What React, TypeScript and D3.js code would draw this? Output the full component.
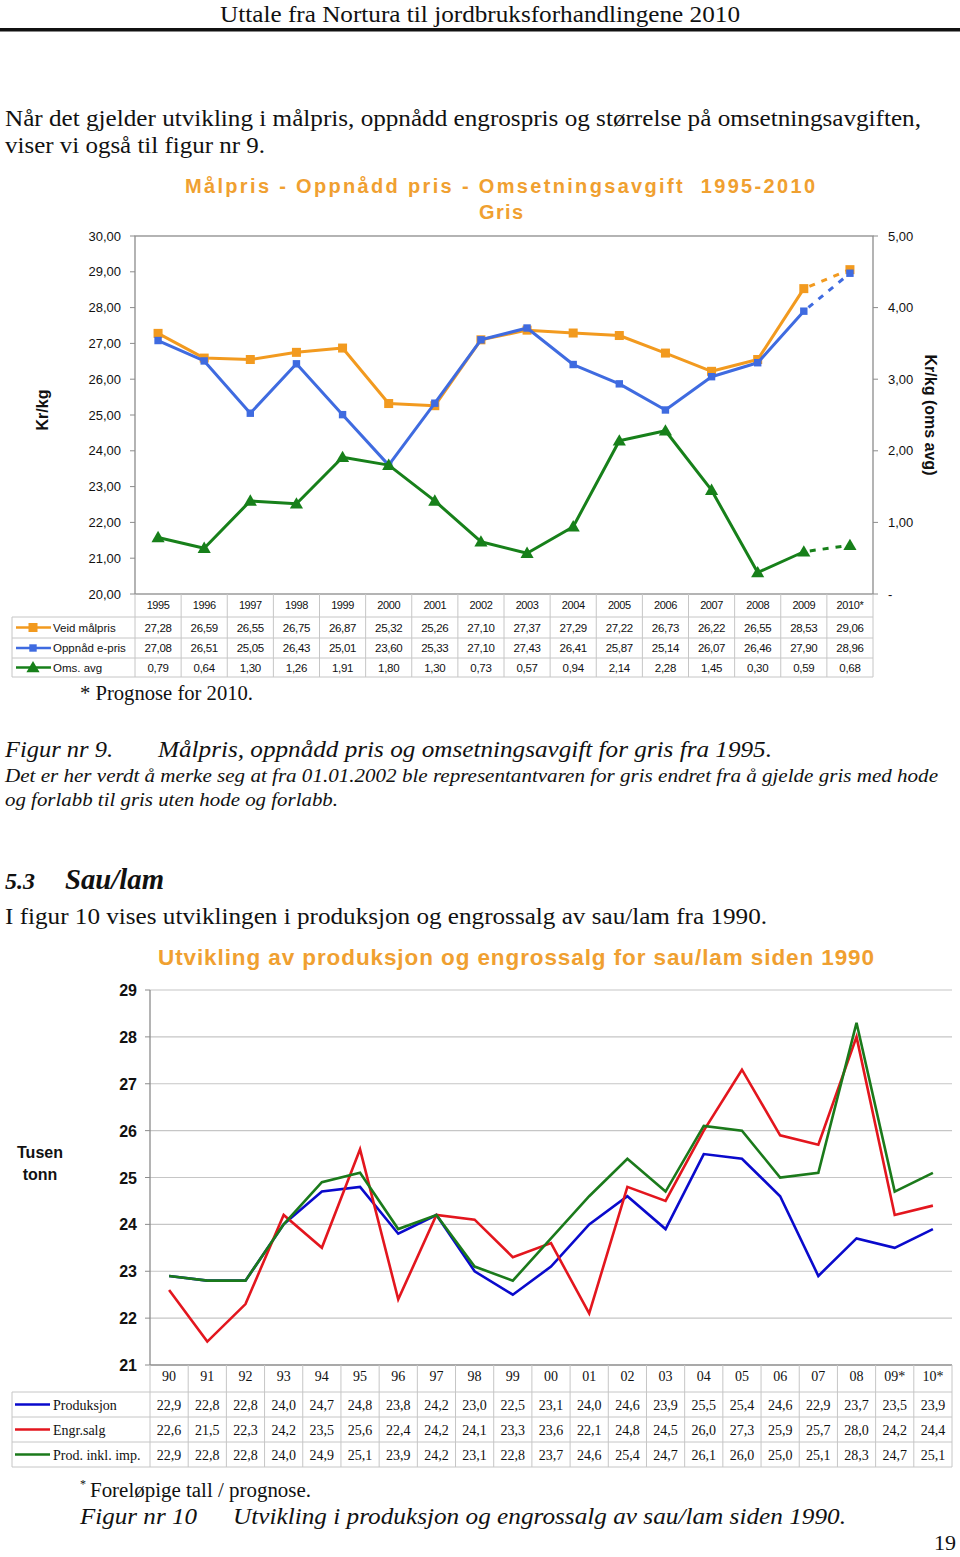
import React from "react";
import * as d3 from "d3";

// ---------- Figure 9 data ----------
const years1 = ["1995","1996","1997","1998","1999","2000","2001","2002","2003","2004","2005","2006","2007","2008","2009","2010*"];
const veidMalpris = [27.28,26.59,26.55,26.75,26.87,25.32,25.26,27.10,27.37,27.29,27.22,26.73,26.22,26.55,28.53,29.06];
const oppnaddPris = [27.08,26.51,25.05,26.43,25.01,23.60,25.33,27.10,27.43,26.41,25.87,25.14,26.07,26.46,27.90,28.96];
const omsAvg = [0.79,0.64,1.30,1.26,1.91,1.80,1.30,0.73,0.57,0.94,2.14,2.28,1.45,0.30,0.59,0.68];
const leftTicks1 = [20,21,22,23,24,25,26,27,28,29,30];
const rightTicks1 = [0,1,2,3,4,5];

// ---------- Figure 10 data ----------
const years2 = ["90","91","92","93","94","95","96","97","98","99","00","01","02","03","04","05","06","07","08","09*","10*"];
const produksjon = [22.9,22.8,22.8,24.0,24.7,24.8,23.8,24.2,23.0,22.5,23.1,24.0,24.6,23.9,25.5,25.4,24.6,22.9,23.7,23.5,23.9];
const engrSalg = [22.6,21.5,22.3,24.2,23.5,25.6,22.4,24.2,24.1,23.3,23.6,22.1,24.8,24.5,26.0,27.3,25.9,25.7,28.0,24.2,24.4];
const prodInklImp = [22.9,22.8,22.8,24.0,24.9,25.1,23.9,24.2,23.1,22.8,23.7,24.6,25.4,24.7,26.1,26.0,25.0,25.1,28.3,24.7,25.1];
const ticks2 = [21,22,23,24,25,26,27,28,29];

const SERIF = "'Liberation Serif','Times New Roman',serif";
const SANS = "'Liberation Sans',Arial,Helvetica,sans-serif";
const ORANGE = "#f29a1f";
const TITLE_ORANGE = "#f0a030";
const BLUE1 = "#3f6be0";
const GREEN1 = "#17801a";
const BLUE2 = "#0a0acc";
const RED2 = "#e3161e";
const GREEN2 = "#1b7a1b";
const AXIS = "#8c8c8c";
const GRID = "#c6c6c6";

const comma2 = (v: number) => d3.format(".2f")(v).replace(".", ",");
const comma1 = (v: number) => d3.format(".1f")(v).replace(".", ",");

function Marker({ type, x, y, color }: { type: string; x: number; y: number; color: string }) {
  if (type === "square") return <rect x={x - 4.5} y={y - 4.5} width={9} height={9} fill={color} />;
  if (type === "diamond") {
    const p = d3.symbol().type(d3.symbolDiamond2).size(70)();
    return <path d={p || ""} transform={`translate(${x},${y}) rotate(45)`} fill={color} />;
  }
  const t = d3.symbol().type(d3.symbolTriangle).size(75)();
  return <path d={t || ""} transform={`translate(${x},${y + 1})`} fill={color} />;
}

function Figure9() {
  const x = d3.scaleBand<string>().domain(years1).range([135, 873]);
  const cx = (d: string) => (x(d) as number) + x.bandwidth() / 2;
  const yL = d3.scaleLinear().domain([20, 30]).range([594, 236]);
  const yR = d3.scaleLinear().domain([0, 5]).range([594, 236]);

  const series = [
    { name: "Veid målpris", values: veidMalpris, color: ORANGE, marker: "square", y: yL, fmt: comma2 },
    { name: "Oppnåd e-pris", values: oppnaddPris, color: BLUE1, marker: "diamond", y: yL, fmt: comma2 },
    { name: "Oms. avg", values: omsAvg, color: GREEN1, marker: "triangle", y: yR, fmt: comma2 },
  ];
  const line = d3.line<[number, number]>();
  const n = years1.length;
  const rowTops = [617, 638, 658];
  const rowH = [21, 20, 19];

  return (
    <g>
      {/* title */}
      <text x={185} y={193} fontFamily={SANS} fontWeight="bold" fontSize={20} fill={TITLE_ORANGE} textLength={630} lengthAdjust="spacing" xmlSpace="preserve">Målpris - Oppnådd pris - Omsetningsavgift  1995-2010</text>
      <text x={479} y={219} fontFamily={SANS} fontWeight="bold" fontSize={20} fill={TITLE_ORANGE} textLength={44} lengthAdjust="spacing">Gris</text>

      {/* frame */}
      <rect x={135} y={236} width={738} height={358} fill="none" stroke={AXIS} strokeWidth={1.3} />
      {leftTicks1.map((t) => (
        <g key={"l" + t}>
          <line x1={130} x2={135} y1={yL(t)} y2={yL(t)} stroke={AXIS} />
          <text x={121} y={yL(t) + 4.5} textAnchor="end" fontFamily={SANS} fontSize={13} fill="#111">{comma2(t)}</text>
        </g>
      ))}
      {rightTicks1.map((t) => (
        <g key={"r" + t}>
          <line x1={873} x2={878} y1={yR(t)} y2={yR(t)} stroke={AXIS} />
          <text x={888} y={yR(t) + 4.5} fontFamily={SANS} fontSize={13} fill="#111">{t === 0 ? "-" : comma2(t)}</text>
        </g>
      ))}
      <text transform="translate(48,410) rotate(-90)" textAnchor="middle" fontFamily={SANS} fontWeight="bold" fontSize={16} fill="#111">Kr/kg</text>
      <text transform="translate(925,415) rotate(90)" textAnchor="middle" fontFamily={SANS} fontWeight="bold" fontSize={16} fill="#111">Kr/kg (oms avg)</text>

      {/* series */}
      {series.map((s) => {
        const pts: [number, number][] = s.values.map((v, i) => [cx(years1[i]), s.y(v)]);
        return (
          <g key={s.name}>
            <path d={line(pts.slice(0, n - 1)) || ""} fill="none" stroke={s.color} strokeWidth={3} strokeLinejoin="round" />
            <path d={line(pts.slice(n - 2)) || ""} fill="none" stroke={s.color} strokeWidth={3} strokeDasharray="6,7" strokeDashoffset={-6} />
            {pts.map((p, i) => <Marker key={i} type={s.marker} x={p[0]} y={p[1]} color={s.color} />)}
          </g>
        );
      })}

      {/* data table */}
      {years1.map((yr) => (
        <g key={yr}>
          <line x1={x(yr) as number} x2={x(yr) as number} y1={594} y2={677} stroke={GRID} />
          <text x={cx(yr)} y={609} textAnchor="middle" fontFamily={SANS} fontSize={11} letterSpacing={-0.4} fill="#111">{yr}</text>
        </g>
      ))}
      <line x1={873} x2={873} y1={594} y2={677} stroke={GRID} />
      <line x1={12} x2={12} y1={617} y2={677} stroke={GRID} />
      {[617, 638, 658, 677].map((yy) => <line key={yy} x1={12} x2={873} y1={yy} y2={yy} stroke={GRID} />)}
      {series.map((s, r) => {
        const my = rowTops[r] + rowH[r] / 2;
        return (
          <g key={"row" + s.name}>
            <line x1={16} x2={51} y1={my} y2={my} stroke={s.color} strokeWidth={2.5} />
            <Marker type={s.marker} x={33} y={my} color={s.color} />
            <text x={53} y={my + 4} fontFamily={SANS} fontSize={11.5} fill="#111">{s.name}</text>
            {s.values.map((v, i) => (
              <text key={i} x={cx(years1[i])} y={my + 4} textAnchor="middle" fontFamily={SANS} fontSize={11.5} letterSpacing={-0.3} fill="#111">{s.fmt(v)}</text>
            ))}
          </g>
        );
      })}
    </g>
  );
}

function Figure10() {
  const x = d3.scaleBand<string>().domain(years2).range([150, 952]);
  const cx = (d: string) => (x(d) as number) + x.bandwidth() / 2;
  const y = d3.scaleLinear().domain([21, 29]).range([1365, 990]);
  const series = [
    { name: "Produksjon", values: produksjon, color: BLUE2 },
    { name: "Engr.salg", values: engrSalg, color: RED2 },
    { name: "Prod. inkl. imp.", values: prodInklImp, color: GREEN2 },
  ];
  const line = d3.line<number>().x((_, i) => cx(years2[i])).y((v) => y(v));
  const rowTops = [1392, 1417, 1442];
  const rowH = 25;
  return (
    <g>
      <text x={158} y={965} fontFamily={SANS} fontWeight="bold" fontSize={22.5} fill={TITLE_ORANGE} textLength={716} lengthAdjust="spacing">Utvikling av produksjon og engrossalg for sau/lam siden 1990</text>
      {ticks2.map((t) => (
        <g key={t}>
          {t > 21 && <line x1={150} x2={952} y1={y(t)} y2={y(t)} stroke={GRID} strokeWidth={1.2} />}
          <line x1={145} x2={150} y1={y(t)} y2={y(t)} stroke={AXIS} />
          <text x={137} y={y(t) + 6} textAnchor="end" fontFamily={SANS} fontWeight="bold" fontSize={16} fill="#111">{t}</text>
        </g>
      ))}
      <line x1={150} x2={150} y1={990} y2={1365} stroke={AXIS} strokeWidth={1.3} />
      <line x1={150} x2={952} y1={1365} y2={1365} stroke={AXIS} strokeWidth={1.3} />
      <text x={40} y={1158} textAnchor="middle" fontFamily={SANS} fontWeight="bold" fontSize={16} fill="#111">Tusen</text>
      <text x={40} y={1180} textAnchor="middle" fontFamily={SANS} fontWeight="bold" fontSize={16} fill="#111">tonn</text>

      {series.map((s) => (
        <path key={s.name} d={line(s.values) || ""} fill="none" stroke={s.color} strokeWidth={2.6} strokeLinejoin="miter" />
      ))}

      {/* table */}
      {years2.map((yr) => (
        <g key={yr}>
          <line x1={x(yr) as number} x2={x(yr) as number} y1={1365} y2={1467} stroke={GRID} />
          <text x={cx(yr)} y={1381} textAnchor="middle" fontFamily={SERIF} fontSize={14} fill="#111">{yr}</text>
        </g>
      ))}
      <line x1={952} x2={952} y1={1365} y2={1467} stroke={GRID} />
      <line x1={12} x2={12} y1={1392} y2={1467} stroke={GRID} />
      {[1392, 1417, 1442, 1467].map((yy) => <line key={yy} x1={12} x2={952} y1={yy} y2={yy} stroke={GRID} />)}
      {series.map((s, r) => {
        const my = rowTops[r] + rowH / 2;
        return (
          <g key={"row" + s.name}>
            <line x1={15} x2={50} y1={my} y2={my} stroke={s.color} strokeWidth={2.6} />
            <text x={53} y={my + 5} fontFamily={SERIF} fontSize={14} fill="#111">{s.name}</text>
            {s.values.map((v, i) => (
              <text key={i} x={cx(years2[i])} y={my + 5} textAnchor="middle" fontFamily={SERIF} fontSize={14} fill="#111">{comma1(v)}</text>
            ))}
          </g>
        );
      })}
    </g>
  );
}

export default function App() {
  return (
    <div style={{ position: "absolute", left: 0, top: 0 }}>
      <svg width={960} height={1557} viewBox="0 0 960 1557" style={{ display: "block", background: "#fff" }}>
        <rect width={960} height={1557} fill="#fff" />
        {/* page header */}
        <text x={220} y={22} fontFamily={SERIF} fontSize={23} fill="#111" textLength={520} lengthAdjust="spacingAndGlyphs">Uttale fra Nortura til jordbruksforhandlingene 2010</text>
        <rect x={0} y={28} width={960} height={3.5} fill="#111" />

        <text x={5} y={126} fontFamily={SERIF} fontSize={23} fill="#111" textLength={916} lengthAdjust="spacingAndGlyphs">Når det gjelder utvikling i målpris, oppnådd engrospris og størrelse på omsetningsavgiften,</text>
        <text x={5} y={153} fontFamily={SERIF} fontSize={23} fill="#111" textLength={260} lengthAdjust="spacingAndGlyphs">viser vi også til figur nr 9.</text>

        <Figure9 />

        <text x={80} y={700} fontFamily={SERIF} fontSize={20} fill="#111" textLength={173} lengthAdjust="spacingAndGlyphs">* Prognose for 2010.</text>

        <text x={5} y={757} fontFamily={SERIF} fontStyle="italic" fontSize={23} fill="#111" textLength={108} lengthAdjust="spacingAndGlyphs">Figur nr 9.</text>
        <text x={158} y={757} fontFamily={SERIF} fontStyle="italic" fontSize={23} fill="#111" textLength={614} lengthAdjust="spacingAndGlyphs">Målpris, oppnådd pris og omsetningsavgift for gris fra 1995.</text>
        <text x={5} y={782} fontFamily={SERIF} fontStyle="italic" fontSize={19.5} fill="#111" textLength={933} lengthAdjust="spacingAndGlyphs">Det er her verdt å merke seg at fra 01.01.2002 ble representantvaren for gris endret fra å gjelde gris med hode</text>
        <text x={5} y={806} fontFamily={SERIF} fontStyle="italic" fontSize={19.5} fill="#111" textLength={333} lengthAdjust="spacingAndGlyphs">og forlabb til gris uten hode og forlabb.</text>

        <text x={5} y={889} fontFamily={SERIF} fontStyle="italic" fontWeight="bold" fontSize={23} fill="#111" textLength={30} lengthAdjust="spacingAndGlyphs">5.3</text>
        <text x={65} y={889} fontFamily={SERIF} fontStyle="italic" fontWeight="bold" fontSize={29} fill="#111" textLength={99} lengthAdjust="spacingAndGlyphs">Sau/lam</text>
        <text x={5} y={924} fontFamily={SERIF} fontSize={23} fill="#111" textLength={762} lengthAdjust="spacingAndGlyphs">I figur 10 vises utviklingen i produksjon og engrossalg av sau/lam fra 1990.</text>

        <Figure10 />

        <text x={80} y={1488} fontFamily={SERIF} fontSize={12} fill="#111">*</text>
        <text x={90} y={1497} fontFamily={SERIF} fontSize={20} fill="#111" textLength={221} lengthAdjust="spacingAndGlyphs">Foreløpige tall / prognose.</text>
        <text x={80} y={1524} fontFamily={SERIF} fontStyle="italic" fontSize={23} fill="#111" textLength={117} lengthAdjust="spacingAndGlyphs">Figur nr 10</text>
        <text x={233} y={1524} fontFamily={SERIF} fontStyle="italic" fontSize={23} fill="#111" textLength={613} lengthAdjust="spacingAndGlyphs">Utvikling i produksjon og engrossalg av sau/lam siden 1990.</text>
        <text x={956} y={1550} textAnchor="end" fontFamily={SERIF} fontSize={22} fill="#111">19</text>
      </svg>
    </div>
  );
}
